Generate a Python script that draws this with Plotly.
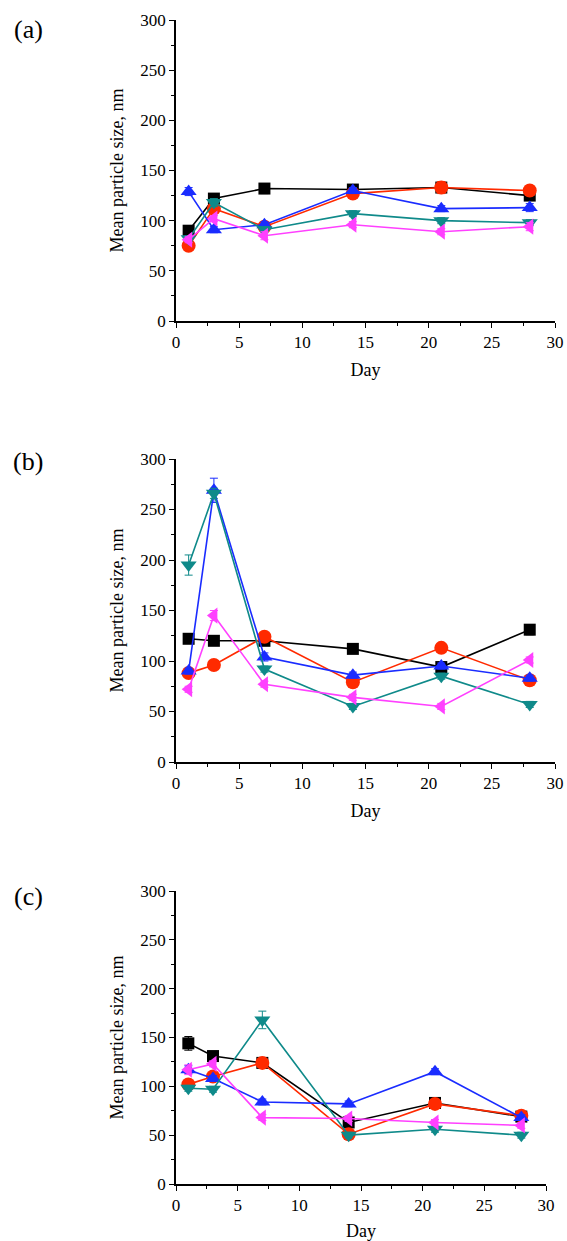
import plotly.graph_objects as go

days = [1, 3, 7, 14, 21, 28]
series_names = ["S1", "S2", "S3", "S4", "S5"]

# Panel (a)
a_black = [90, 122, 132, 131, 133, 125]
a_red = [75, 112, 94, 127, 133, 130]
a_blue = [129, 91, 96, 130, 112, 113]
a_teal = [82, 118, 91, 107, 100, 98]
a_magenta = [81, 102, 85, 96, 89, 94]
a_err_black = [3, 4, 5, 3, 4, 4]
a_err_red = [3, 4, 3, 4, 6, 5]
a_err_blue = [4, 3, 3, 3, 3, 4]
a_err_teal = [3, 4, 3, 3, 3, 3]
a_err_magenta = [3, 3, 4, 3, 3, 4]

# Panel (b)
b_black = [122, 120, 120, 112, 94, 131]
b_red = [88, 96, 124, 79, 113, 81]
b_blue = [90, 269, 104, 86, 95, 83]
b_teal = [195, 266, 92, 55, 85, 57]
b_magenta = [72, 145, 77, 64, 55, 101]
b_err_black = [4, 4, 4, 3, 4, 5]
b_err_red = [3, 3, 4, 3, 3, 3]
b_err_blue = [3, 12, 4, 3, 3, 3]
b_err_teal = [10, 5, 3, 3, 3, 3]
b_err_magenta = [3, 5, 3, 3, 3, 3]

# Panel (c)
c_black = [144, 131, 124, 63, 83, 69]
c_red = [102, 110, 124, 51, 82, 70]
c_blue = [117, 108, 84, 82, 115, 68]
c_teal = [98, 97, 168, 50, 56, 50]
c_magenta = [117, 123, 68, 67, 63, 60]
c_err_black = [7, 4, 4, 3, 3, 3]
c_err_red = [3, 3, 4, 3, 3, 3]
c_err_blue = [4, 3, 3, 3, 3, 3]
c_err_teal = [3, 3, 9, 3, 3, 3]
c_err_magenta = [5, 3, 3, 3, 3, 3]

panel_labels = ["(a)", "(b)", "(c)"]
x_title = "Day"
y_title = "Mean particle size, nm"

colors = ["#000000", "#ff2a00", "#1a2cff", "#0f8a8a", "#ff40ff"]
symbols = ["square", "circle", "triangle-up", "triangle-down", "triangle-left"]
sizes = [12, 14, 14, 14, 14]

panels = [
    ([a_black, a_red, a_blue, a_teal, a_magenta],
     [a_err_black, a_err_red, a_err_blue, a_err_teal, a_err_magenta]),
    ([b_black, b_red, b_blue, b_teal, b_magenta],
     [b_err_black, b_err_red, b_err_blue, b_err_teal, b_err_magenta]),
    ([c_black, c_red, c_blue, c_teal, c_magenta],
     [c_err_black, c_err_red, c_err_blue, c_err_teal, c_err_magenta]),
]

W, H = 567, 1241
# pixel geometry of plot areas: (left, right, top, bottom)
geom = [(176, 555, 20, 321), (176, 555, 459, 762), (176, 546, 891, 1184)]
label_pos = [(28, 30), (28, 462), (28, 896)]

FONT = "Liberation Serif"

fig = go.Figure()
layout = dict(
    width=W, height=H,
    margin=dict(l=0, r=0, t=0, b=0, autoexpand=False),
    paper_bgcolor="white", plot_bgcolor="white",
    showlegend=False,
    font=dict(family=FONT, size=17, color="black"),
)

annotations = []
for i, ((vals, errs), (l, r, t, b)) in enumerate(zip(panels, geom)):
    idx = "" if i == 0 else str(i + 1)
    xa = "x" + idx
    ya = "y" + idx
    for k in range(5):
        fig.add_trace(go.Scatter(
            x=days, y=vals[k], xaxis=xa, yaxis=ya,
            mode="lines+markers", name=series_names[k],
            line=dict(color=colors[k], width=1.6),
            marker=dict(symbol=symbols[k], size=sizes[k], color=colors[k],
                        line=dict(width=0)),
            error_y=dict(type="data", array=errs[k], visible=True,
                         color=colors[k], thickness=1, width=4),
        ))
    common_axis = dict(
        showgrid=False, zeroline=False, showline=True, linecolor="black",
        linewidth=1.5, ticks="outside", ticklen=5, tickwidth=1.2,
        tickcolor="black", tickfont=dict(family=FONT, size=17, color="black"),
        mirror=False, automargin=False, ticklabeloverflow="allow",
    )
    layout["xaxis" + idx] = dict(
        common_axis,
        domain=[l / W, r / W], anchor=ya,
        range=[0, 30], tick0=0, dtick=5,
        minor=dict(ticks="outside", ticklen=3, tickwidth=1.2, tickcolor="black", dtick=2.5),
        title=dict(text=x_title, font=dict(family=FONT, size=18), standoff=12),
    )
    layout["yaxis" + idx] = dict(
        common_axis,
        domain=[1 - b / H, 1 - t / H], anchor=xa,
        range=[0, 300], tick0=0, dtick=50,
        minor=dict(ticks="outside", ticklen=3, tickwidth=1.2, tickcolor="black", dtick=25),
        title=dict(text=y_title, font=dict(family=FONT, size=18), standoff=12),
    )
    lx, ly = label_pos[i]
    annotations.append(dict(
        text=panel_labels[i], x=lx / W, y=1 - ly / H,
        xref="paper", yref="paper",
        showarrow=False, xanchor="center", yanchor="middle",
        font=dict(family=FONT, size=26, color="black"),
    ))

layout["annotations"] = annotations
fig.update_layout(**layout)
fig.write_html(
    "out.html",
    config={"displayModeBar": False},
    post_script="document.body.style.margin='0';document.body.style.overflow='hidden';",
)
